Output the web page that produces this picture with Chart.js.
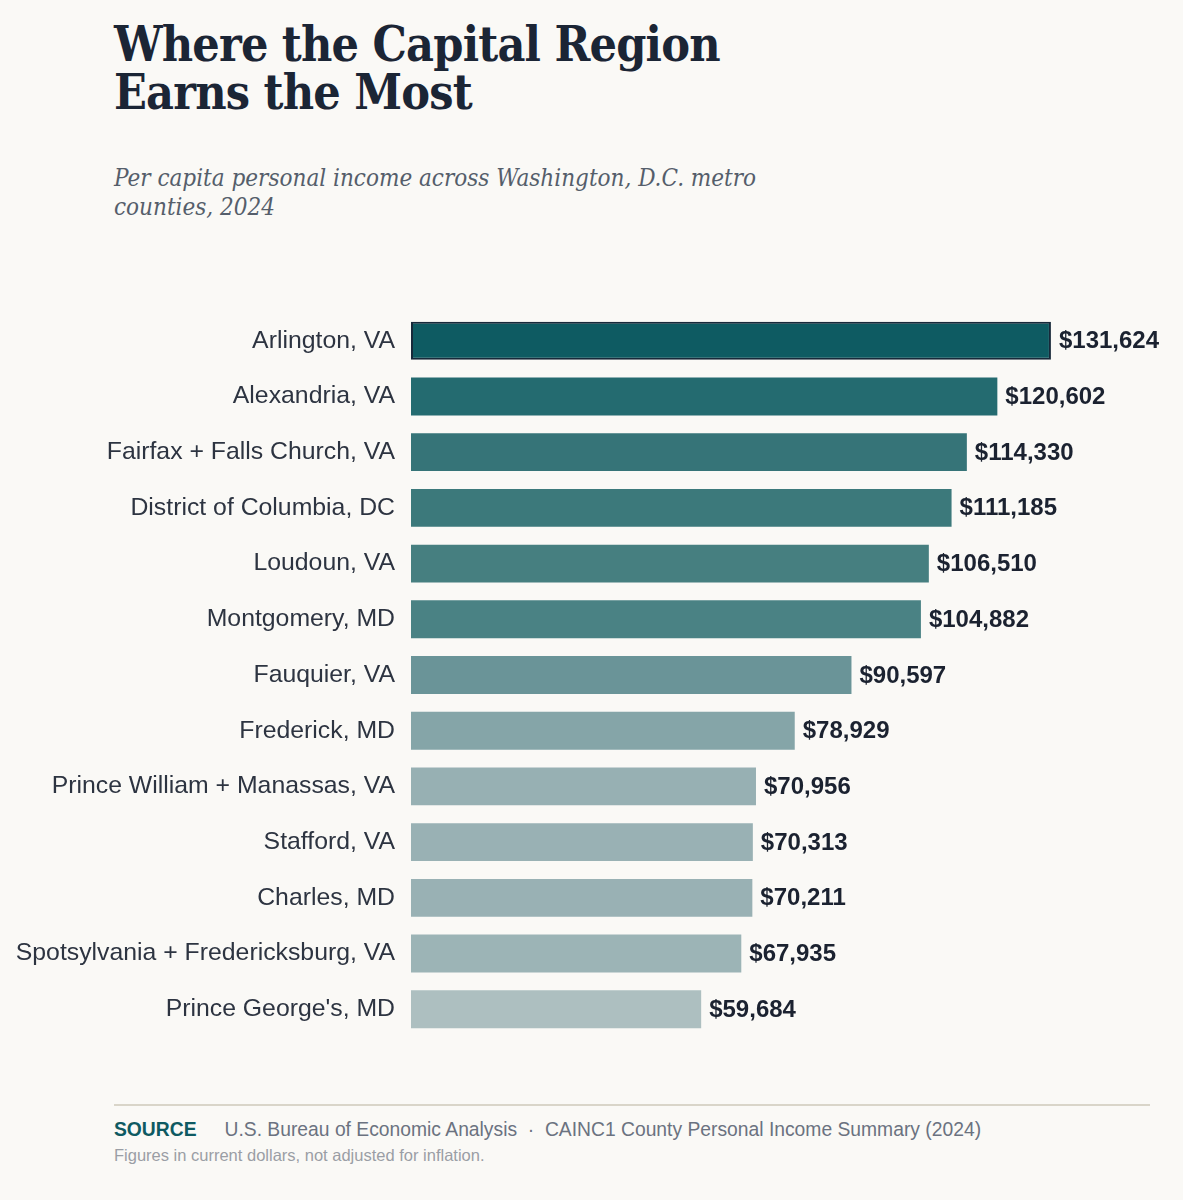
<!DOCTYPE html>
<html>
<head>
<meta charset="utf-8">
<script src="https://cdn.jsdelivr.net/npm/chart.js@4.4.1/dist/chart.umd.min.js"></script>
<style>
  html, body { margin: 0; padding: 0; background: #faf9f6; }
  body { width: 1183px; height: 1200px; position: relative; overflow: hidden; }
  h1 {
    position: absolute; left: 114px; top: 20px; margin: 0;
    font-family: "DejaVu Serif Condensed", "DejaVu Serif", serif;
    font-stretch: condensed;
    font-weight: bold; font-size: 48px; line-height: 48px;
    color: #1b2535; letter-spacing: -0.8px;
  }
  .sub {
    position: absolute; left: 114px; top: 164px; width: 720px; margin: 0;
    font-family: "DejaVu Serif Condensed", "DejaVu Serif", serif;
    font-stretch: condensed;
    font-style: italic; font-size: 24px; line-height: 29px; color: #555e6b;
  }
  #wrap { position: absolute; left: 0; top: 282px; width: 1183px; height: 786px; }
  .rule { position: absolute; left: 114px; top: 1104px; width: 1036px; height: 2px; background: #d9d5c9; }
  .src {
    position: absolute; left: 114px; top: 1119px;
    font-family: "Liberation Sans", Arial, sans-serif; font-size: 19.3px; color: #6b7280;
  }
  .src b { color: #0e5a62; font-weight: bold; margin-right: 28px; }
  .note {
    position: absolute; left: 114px; top: 1146px;
    font-family: "Liberation Sans", Arial, sans-serif; font-size: 16.5px; color: #9a9ea5;
  }
</style>
</head>
<body>
<h1>Where the Capital Region<br>Earns the Most</h1>
<p class="sub">Per capita personal income across Washington, D.C. metro<br>counties, 2024</p>
<div id="wrap"><canvas id="incomeChart"></canvas></div>
<div class="rule"></div>
<div class="src"><b>SOURCE</b>U.S. Bureau of Economic Analysis &nbsp;·&nbsp; CAINC1 County Personal Income Summary (2024)</div>
<div class="note">Figures in current dollars, not adjusted for inflation.</div>

<script>
// Dados do gráfico
const counties = [
    'Arlington, VA', 'Alexandria, VA', 'Fairfax + Falls Church, VA', 'District of Columbia, DC',
    'Loudoun, VA', 'Montgomery, MD', 'Fauquier, VA', 'Frederick, MD',
    'Prince William + Manassas, VA', 'Stafford, VA', 'Charles, MD',
    'Spotsylvania + Fredericksburg, VA', "Prince George's, MD"
];
const income = [131624, 120602, 114330, 111185, 106510, 104882, 90597, 78929, 70956, 70313, 70211, 67935, 59684];
const barColors = [
    '#0e5b62', '#246b70', '#367478', '#3c797b', '#467f80', '#4a8284', '#6a9498',
    '#85a5a8', '#97b0b3', '#99b1b4', '#99b1b4', '#9cb4b6', '#adbfc0'
];

function formatMoney(v) {
    return '$' + v.toLocaleString('en-US');
}

// Rótulos de valor no fim de cada barra
const valueLabels = {
    id: 'valueLabels',
    afterDatasetsDraw(chart) {
        const ctx = chart.ctx;
        const meta = chart.getDatasetMeta(0);
        ctx.save();
        ctx.font = 'bold 24px "Liberation Sans", Arial, sans-serif';
        ctx.fillStyle = '#1b2230';
        ctx.textAlign = 'left';
        ctx.textBaseline = 'middle';
        meta.data.forEach((bar, i) => {
            ctx.fillText(formatMoney(income[i]), bar.x + 8, bar.y + 1);
        });
        ctx.restore();
    }
};

document.addEventListener('DOMContentLoaded', function() {
    const ctx = document.getElementById('incomeChart').getContext('2d');
    new Chart(ctx, {
        type: 'bar',
        data: {
            labels: counties,
            datasets: [{
                data: income,
                backgroundColor: barColors,
                borderColor: income.map((v, i) => i === 0 ? '#17293a' : 'rgba(0,0,0,0)'),
                borderWidth: income.map((v, i) => i === 0 ? 2 : 0),
                borderSkipped: false,
                categoryPercentage: 1,
                barPercentage: 0.68
            }]
        },
        options: {
            indexAxis: 'y',
            responsive: true,
            maintainAspectRatio: false,
            animation: false,
            layout: { padding: { left: 0, right: 33, top: 0, bottom: 0 } },
            plugins: {
                legend: { display: false },
                tooltip: { enabled: false }
            },
            scales: {
                x: {
                    display: false,
                    min: 0,
                    max: 152000
                },
                y: {
                    grid: { display: false, drawTicks: false },
                    border: { display: false },
                    afterFit(scale) { scale.width = 411; },
                    ticks: {
                        padding: 16,
                        color: '#2d3441',
                        font: { family: '"Liberation Sans", Arial, sans-serif', size: 24.8 }
                    }
                }
            }
        },
        plugins: [valueLabels]
    });
});
</script>
</body>
</html>
